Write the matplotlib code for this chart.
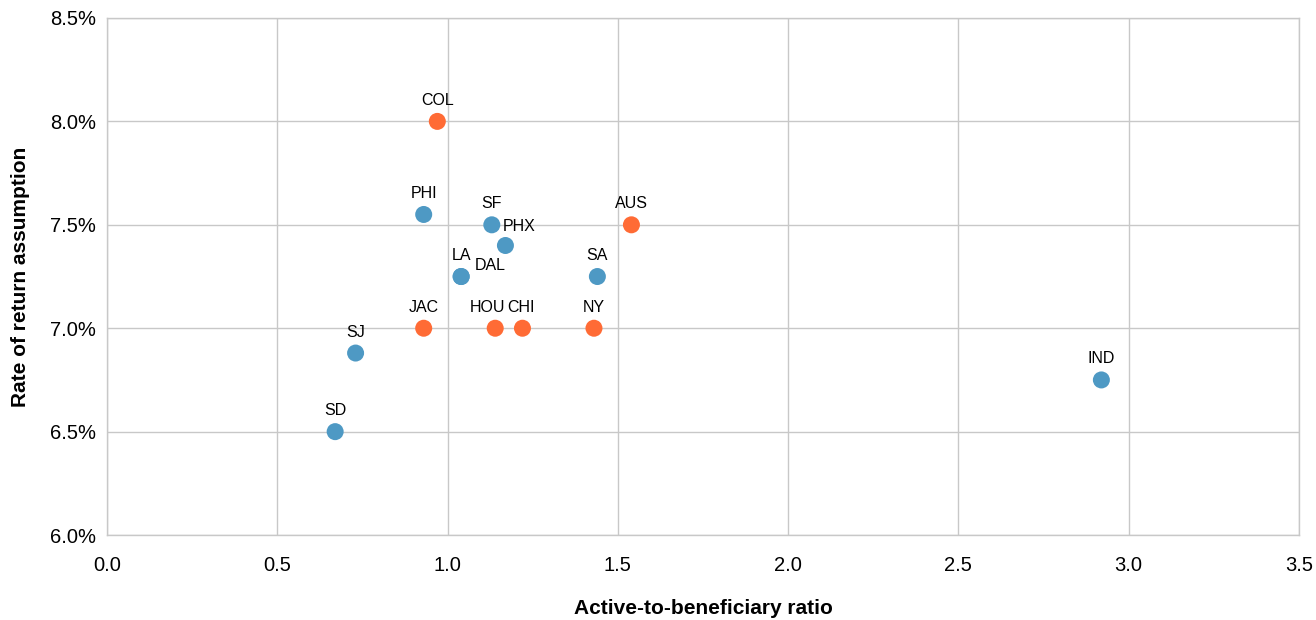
import matplotlib
matplotlib.use("Agg")
import matplotlib.pyplot as plt
from matplotlib.ticker import FuncFormatter

plt.rcParams['font.family'] = ['Liberation Sans', 'DejaVu Sans']

# cities, active-to-beneficiary ratio, assumed rate of return (%)
cities = ["COL", "PHI", "SF", "PHX", "AUS", "LA", "DAL", "SA", "JAC",
          "HOU", "CHI", "NY", "SJ", "SD", "IND"]
ratio = [0.97, 0.93, 1.13, 1.17, 1.54, 1.04, 1.04, 1.44, 0.93,
         1.14, 1.22, 1.43, 0.73, 0.67, 2.92]
rate = [8.0, 7.55, 7.5, 7.4, 7.5, 7.25, 7.25, 7.25, 7.0,
        7.0, 7.0, 7.0, 6.88, 6.5, 6.75]
group = ["o", "b", "b", "b", "o", "b", "b", "b", "o",
         "o", "o", "o", "b", "b", "b"]

BLUE = "#4E99C4"
ORANGE = "#FF6B35"

# label offsets in pixels (dx, dy) where default "above" doesn't fit
label_off = {"PHX": (14, 19), "DAL": (29, 11), "HOU": (-8, 21), "CHI": (-1, 21)}

fig = plt.figure(figsize=(13.16, 6.2), dpi=100)
ax = fig.add_axes([0.0813, 0.137, 0.9057, 0.834])

cols = [ORANGE if g == "o" else BLUE for g in group]
ax.scatter(ratio, rate, s=150, c=cols, edgecolors="none", zorder=3)

for name, x, y in zip(cities, ratio, rate):
    dx, dy = label_off.get(name, (0, 21))
    ax.annotate(name, (x, y), xytext=(dx * 0.72, dy * 0.72), textcoords="offset points",
                ha="center", va="center", fontsize=11.5, color="black", zorder=4)

ax.set_xlim(0, 3.5)
ax.set_ylim(6.0, 8.5)
ax.set_xticks([0, 0.5, 1.0, 1.5, 2.0, 2.5, 3.0, 3.5])
ax.set_yticks([6.0, 6.5, 7.0, 7.5, 8.0, 8.5])
ax.xaxis.set_major_formatter(FuncFormatter(lambda v, p: f"{v:.1f}"))
ax.yaxis.set_major_formatter(FuncFormatter(lambda v, p: f"{v:.1f}%"))
ax.tick_params(length=0, labelsize=14.5, pad=8)
ax.tick_params(axis="x", pad=15)

ax.grid(True, color="#C8C8C8", linewidth=1)
ax.set_axisbelow(True)
for s in ax.spines.values():
    s.set_color("#C8C8C8")
    s.set_linewidth(1)

ax.set_xlabel("Active-to-beneficiary ratio", fontsize=15, fontweight="bold", labelpad=17)
ax.set_ylabel("Rate of return assumption", fontsize=15, fontweight="bold", labelpad=14)

fig.savefig("out.png", dpi=100)
